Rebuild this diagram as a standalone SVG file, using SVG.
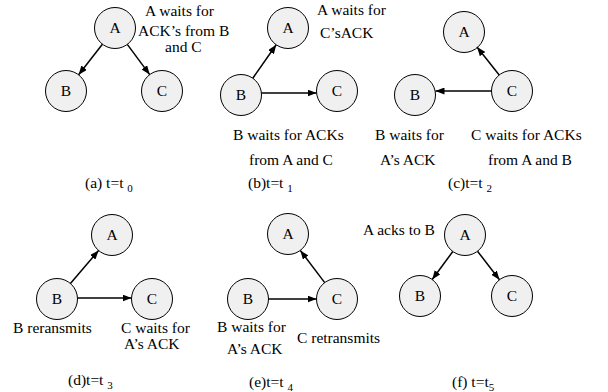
<svg xmlns="http://www.w3.org/2000/svg" width="608" height="392" viewBox="0 0 608 392" font-family="'Liberation Serif', 'Times New Roman', Times, serif">
<style>
  .n{fill:#f0f0f0;stroke:#000;stroke-width:1}
  text{font-family:'Liberation Serif','Times New Roman',Times,serif;font-size:15.5px;fill:#000}
  .c{text-anchor:middle}
  .sub{font-size:11px}
  .e{stroke:#000;stroke-width:1.5;fill:none;marker-end:url(#ah)}
</style>
<defs>
  <marker id="ah" markerUnits="userSpaceOnUse" markerWidth="9" markerHeight="7" refX="9" refY="3.5" orient="auto">
    <path d="M0,0 L9,3.5 L0,7 z" fill="#000"/>
  </marker>
</defs>
<rect width="608" height="392" fill="#fff"/>

<!-- nodes -->
<g id="a-A"><circle class="n" cx="115" cy="28" r="20.5"/><text class="c" x="115" y="33">A</text></g>
<g id="a-B"><circle class="n" cx="66" cy="91" r="20.5"/><text class="c" x="66" y="96">B</text></g>
<g id="a-C"><circle class="n" cx="162" cy="91" r="20.5"/><text class="c" x="162" y="96">C</text></g>

<g id="b-A"><circle class="n" cx="288" cy="28" r="20.5"/><text class="c" x="288" y="33">A</text></g>
<g id="b-B"><circle class="n" cx="241" cy="95" r="20.5"/><text class="c" x="241" y="100">B</text></g>
<g id="b-C"><circle class="n" cx="337" cy="91" r="20.5"/><text class="c" x="337" y="96">C</text></g>

<g id="c-A"><circle class="n" cx="464" cy="32" r="20.5"/><text class="c" x="464" y="37">A</text></g>
<g id="c-B"><circle class="n" cx="415" cy="95" r="20.5"/><text class="c" x="415" y="100">B</text></g>
<g id="c-C"><circle class="n" cx="512" cy="91" r="20.5"/><text class="c" x="512" y="96">C</text></g>

<g id="d-A"><circle class="n" cx="112" cy="235" r="20.5"/><text class="c" x="112" y="240">A</text></g>
<g id="d-B"><circle class="n" cx="57" cy="299" r="20.5"/><text class="c" x="57" y="304">B</text></g>
<g id="d-C"><circle class="n" cx="152" cy="299" r="20.5"/><text class="c" x="152" y="304">C</text></g>

<g id="e-A"><circle class="n" cx="288" cy="234" r="20.5"/><text class="c" x="288" y="239">A</text></g>
<g id="e-B"><circle class="n" cx="248" cy="299" r="20.5"/><text class="c" x="248" y="304">B</text></g>
<g id="e-C"><circle class="n" cx="337" cy="299" r="20.5"/><text class="c" x="337" y="304">C</text></g>

<g id="f-A"><circle class="n" cx="465" cy="235" r="20.5"/><text class="c" x="465" y="240">A</text></g>
<g id="f-B"><circle class="n" cx="420" cy="296" r="20.5"/><text class="c" x="420" y="301">B</text></g>
<g id="f-C"><circle class="n" cx="512" cy="296" r="20.5"/><text class="c" x="512" y="301">C</text></g>

<!-- connectors -->
<g id="connectors">
  <line class="e" x1="102.4" y1="44.2" x2="78.6" y2="74.8"/>
  <line class="e" x1="127.3" y1="44.4" x2="149.7" y2="74.6"/>

  <line class="e" x1="252.8" y1="78.2" x2="276.2" y2="44.8"/>
  <line class="e" x1="261.5" y1="93" x2="316.5" y2="93"/>

  <line class="e" x1="499.2" y1="75" x2="477" y2="47"/>
  <line class="e" x1="491.5" y1="91" x2="435.5" y2="91"/>

  <line class="e" x1="70.4" y1="283.5" x2="98.6" y2="250.5"/>
  <line class="e" x1="77.5" y1="298" x2="131.5" y2="298"/>

  <line class="e" x1="324.7" y1="282.6" x2="300.3" y2="250.4"/>
  <line class="e" x1="268.5" y1="299" x2="316.5" y2="299"/>

  <line class="e" x1="452.8" y1="251.5" x2="432.2" y2="279.5"/>
  <line class="e" x1="477.5" y1="251.2" x2="499.5" y2="279.8"/>
</g>

<!-- labels -->
<text x="145" y="16">A waits for</text>
<text x="138" y="36">ACK’s from B</text>
<text x="165" y="52">and C</text>
<text x="85" y="188">(a) t=t <tspan class="sub" dy="4">0</tspan></text>

<text x="317" y="15">A waits for</text>
<text x="320" y="38">C’sACK</text>
<text x="233" y="140">B waits for ACKs</text>
<text x="249" y="165">from A and C</text>
<text x="248" y="188">(b)t=t <tspan class="sub" dy="4">1</tspan></text>

<text x="375" y="140">B waits for</text>
<text x="380" y="165">A’s ACK</text>
<text x="471" y="140">C waits for ACKs</text>
<text x="488" y="165">from A and B</text>
<text x="448" y="188">(c)t=t <tspan class="sub" dy="4">2</tspan></text>

<text x="13" y="333">B reransmits</text>
<text x="121" y="333">C waits for</text>
<text x="124" y="349">A’s ACK</text>
<text x="68" y="385">(d)t=t <tspan class="sub" dy="4">3</tspan></text>

<text x="217" y="332">B waits for</text>
<text x="227" y="354">A’s ACK</text>
<text x="297" y="343">C retransmits</text>
<text x="249" y="387">(e)t=t <tspan class="sub" dy="4">4</tspan></text>

<text x="363" y="235">A acks to B</text>
<text x="452" y="387">(f) t=t<tspan class="sub" dy="4">5</tspan></text>
</svg>
